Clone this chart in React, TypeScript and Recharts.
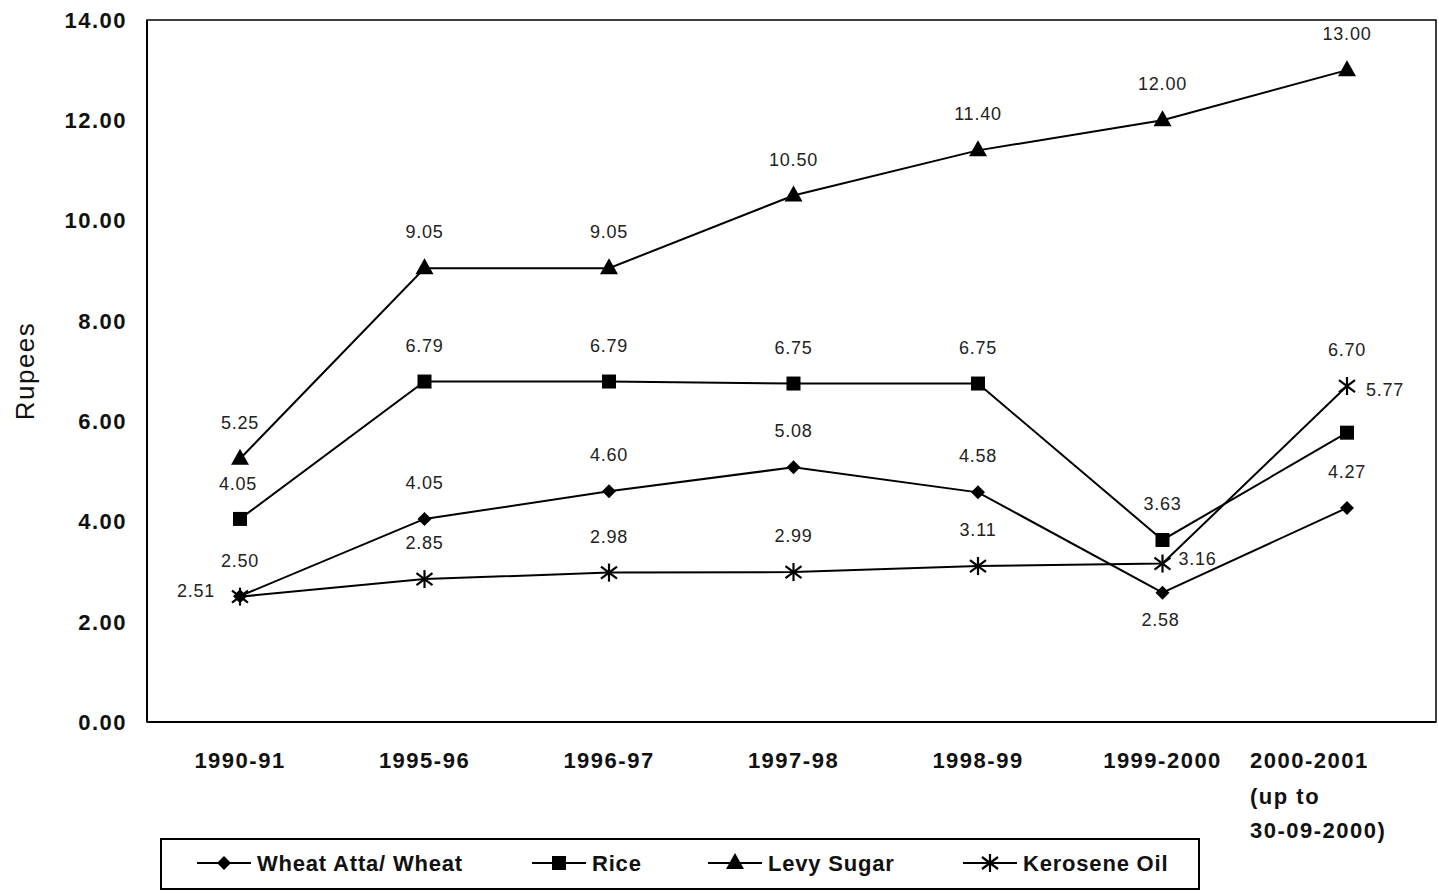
import React from "react"
import { LineChart, Line, XAxis, YAxis, Legend, LabelList, usePlotArea } from "recharts"

const YEARS = ["1990-91", "1995-96", "1996-97", "1997-98", "1998-99", "1999-2000", "2000-2001"]
const WHEAT = [2.51, 4.05, 4.6, 5.08, 4.58, 2.58, 4.27]
const RICE = [4.05, 6.79, 6.79, 6.75, 6.75, 3.63, 5.77]
const SUGAR = [5.25, 9.05, 9.05, 10.5, 11.4, 12.0, 13.0]
const KEROSENE = [2.5, 2.85, 2.98, 2.99, 3.11, 3.16, 6.7]
const Y_TICKS = [0, 2, 4, 6, 8, 10, 12, 14]

const data = YEARS.map((year, i) => ({
  year,
  wheat: WHEAT[i],
  rice: RICE[i],
  sugar: SUGAR[i],
  kerosene: KEROSENE[i],
}))

const FONT = "Arial, 'Liberation Sans', Helvetica, sans-serif"

// label offsets from the marker, by point index (default above)
const LABEL_POS: Record<string, Record<number, [number, number]>> = {
  wheat: { 0: [-44, -5], 5: [-2, 27] },
  rice: { 0: [-2, -35], 6: [38, -43] },
  sugar: {},
  kerosene: { 5: [35, -5] },
}

function makeLabel(key: string) {
  return (props: any) => {
    const { x, y, value, index } = props
    const [dx, dy] = LABEL_POS[key][index] ?? [0, -36]
    return (
      <text
        x={x + dx}
        y={y + dy}
        textAnchor="middle"
        dominantBaseline="central"
        fontSize={18}
        letterSpacing={0.8}
        fontFamily={FONT}
        fill="#222"
      >
        {Number(value).toFixed(2)}
      </text>
    )
  }
}

function Marker({ kind, cx, cy }: { kind: string; cx: number; cy: number }) {
  if (kind === "wheat")
    return <path d={`M${cx},${cy - 7}L${cx + 7},${cy}L${cx},${cy + 7}L${cx - 7},${cy}Z`} fill="#000" />
  if (kind === "rice") return <rect x={cx - 7} y={cy - 7} width={14} height={14} fill="#000" />
  if (kind === "sugar")
    return <path d={`M${cx},${cy - 10}L${cx + 9},${cy + 6}L${cx - 9},${cy + 6}Z`} fill="#000" />
  return (
    <g stroke="#000" strokeWidth={2.2}>
      <line x1={cx} y1={cy - 9} x2={cx} y2={cy + 9} />
      <line x1={cx - 8} y1={cy - 6} x2={cx + 8} y2={cy + 6} />
      <line x1={cx - 8} y1={cy + 6} x2={cx + 8} y2={cy - 6} />
    </g>
  )
}

const dotFor = (kind: string) => (props: any) => {
  if (props.cx == null || props.cy == null) return <g key={props.key} />
  return (
    <g key={`${kind}-${props.index}`}>
      <Marker kind={kind} cx={props.cx} cy={props.cy} />
    </g>
  )
}

const BOLD = { fontSize: 22, fontWeight: 700, fontFamily: FONT, fill: "#111", letterSpacing: 1.5 }

function XTick(props: any) {
  const { x, y, payload } = props
  if (payload.value === "2000-2001") {
    return (
      <g>
        <text x={x - 97} y={y + 38} textAnchor="start" {...BOLD}>2000-2001</text>
        <text x={x - 97} y={y + 74} textAnchor="start" {...BOLD}>(up to</text>
        <text x={x - 97} y={y + 108} textAnchor="start" {...BOLD}>30-09-2000)</text>
      </g>
    )
  }
  return (
    <text x={x} y={y + 38} textAnchor="middle" {...BOLD}>
      {payload.value}
    </text>
  )
}

// frame around the plot area (top and right edges; left/bottom come from the axes)
function PlotFrame() {
  const area = usePlotArea()
  if (!area) return null
  return (
    <rect
      x={area.x}
      y={area.y}
      width={area.width}
      height={area.height}
      fill="none"
      stroke="#000"
      strokeWidth={1.5}
    />
  )
}

const LEGEND_ITEMS = [
  { kind: "wheat", name: "Wheat Atta/ Wheat", x: 37 },
  { kind: "rice", name: "Rice", x: 372 },
  { kind: "sugar", name: "Levy Sugar", x: 548 },
  { kind: "kerosene", name: "Kerosene Oil", x: 803 },
]

function LegendBox() {
  return (
    <svg width={1040} height={52} style={{ display: "block" }}>
      <rect x={1} y={1} width={1038} height={50} fill="none" stroke="#000" strokeWidth={2} />
      {LEGEND_ITEMS.map((it) => (
        <g key={it.kind}>
          <line x1={it.x} y1={25} x2={it.x + 54} y2={25} stroke="#000" strokeWidth={2} />
          <Marker kind={it.kind} cx={it.x + 27} cy={25} />
          <text
            x={it.x + 60}
            y={33}
            fontSize={22}
            fontWeight={700}
            letterSpacing={0.8}
            fontFamily={FONT}
            fill="#111"
          >
            {it.name}
          </text>
        </g>
      ))}
    </svg>
  )
}

const SERIES = ["wheat", "rice", "sugar", "kerosene"]

export default function App() {
  return (
    <div style={{ position: "absolute", left: 0, top: 0, width: 1439, height: 893, background: "#fff" }}>
      <LineChart
        width={1439}
        height={893}
        data={data}
        margin={{ top: 20, right: 3, left: 0, bottom: 3 }}
      >
        <PlotFrame />
        <XAxis
          dataKey="year"
          tick={<XTick />}
          tickLine={false}
          axisLine={{ stroke: "#000", strokeWidth: 2 }}
          padding={{ left: 93, right: 89 }}
          height={116}
          interval={0}
        />
        <YAxis
          domain={[0, 14]}
          ticks={Y_TICKS}
          tickFormatter={(v: number) => v.toFixed(2)}
          width={147}
          tickLine={false}
          tickSize={0}
          tickMargin={20}
          axisLine={{ stroke: "#000", strokeWidth: 2 }}
          tick={BOLD}
          label={{
            value: "Rupees",
            angle: -90,
            position: "insideLeft",
            offset: 25,
            style: { fontSize: 26, letterSpacing: 1.5, fontFamily: FONT, fill: "#111", textAnchor: "middle" },
          }}
        />
        <Legend
          verticalAlign="bottom"
          content={<LegendBox />}
          wrapperStyle={{ left: 160, width: 1040, height: 52 }}
        />
        {SERIES.map((key) => (
          <Line
            key={key}
            dataKey={key}
            stroke="#000"
            strokeWidth={2}
            dot={dotFor(key)}
            activeDot={false}
            legendType="none"
            isAnimationActive={false}
          >
            <LabelList dataKey={key} content={makeLabel(key)} />
          </Line>
        ))}
      </LineChart>
    </div>
  )
}
